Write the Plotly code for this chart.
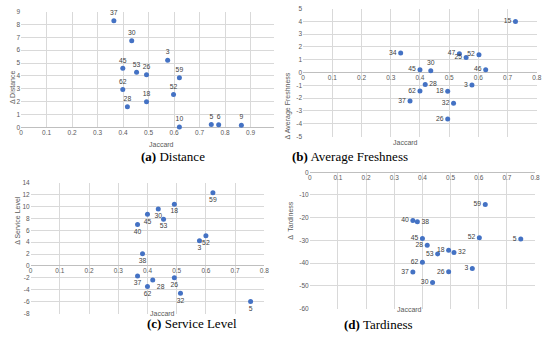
import plotly.graph_objects as go

W, H = 550, 346

# ---------------- data ----------------
# (a) Distance
dist_labels = ["37", "30", "3", "45", "53", "26", "59", "62", "52", "18", "28", "10", "5", "6", "9"]
dist_x = [0.364, 0.434, 0.575, 0.399, 0.453, 0.492, 0.621, 0.399, 0.598, 0.492, 0.417, 0.621, 0.746, 0.775, 0.864]
dist_y = [8.29, 6.74, 5.22, 4.59, 4.28, 4.10, 3.85, 2.94, 2.56, 2.00, 1.60, 0.03, 0.23, 0.20, 0.18]

# (b) Average Freshness
fresh_labels = ["15", "34", "47", "52", "25", "30", "45", "46", "28", "3", "62", "18", "37", "32", "26"]
fresh_x = [0.727, 0.334, 0.535, 0.602, 0.558, 0.437, 0.400, 0.625, 0.418, 0.578, 0.400, 0.495, 0.366, 0.515, 0.495]
fresh_y = [4.00, 1.53, 1.48, 1.40, 1.17, 0.15, 0.23, 0.23, -0.94, -0.97, -1.43, -1.45, -2.22, -2.40, -3.62]

# (c) Service Level
serv_labels = ["59", "18", "30", "45", "53", "40", "52", "3", "38", "37", "26", "28", "62", "32", "5"]
serv_x = [0.624, 0.492, 0.437, 0.400, 0.455, 0.366, 0.600, 0.578, 0.383, 0.366, 0.492, 0.418, 0.400, 0.513, 0.753]
serv_y = [12.30, 10.38, 9.55, 8.68, 7.86, 6.98, 5.06, 4.24, 2.04, -1.69, -1.96, -2.35, -3.44, -4.60, -5.97]

# (d) Tardiness
tard_labels = ["59", "40", "38", "45", "52", "5", "28", "18", "53", "32", "62", "3", "37", "26", "30"]
tard_x = [0.623, 0.366, 0.382, 0.400, 0.602, 0.749, 0.417, 0.493, 0.454, 0.512, 0.400, 0.577, 0.366, 0.493, 0.436]
tard_y = [-14.2, -21.2, -21.8, -29.1, -28.8, -29.3, -32.1, -34.3, -35.9, -35.3, -39.6, -42.3, -43.9, -43.8, -48.5]

# tick labels
ticks_x_a = [0, 0.1, 0.2, 0.3, 0.4, 0.5, 0.6, 0.7, 0.8, 0.9]
ticks_x_8 = [0, 0.1, 0.2, 0.3, 0.4, 0.5, 0.6, 0.7, 0.8]
ticks_y_a = [0, 1, 2, 3, 4, 5, 6, 7, 8, 9]
ticks_y_b = [-5, -4, -3, -2, -1, 0, 1, 2, 3, 4, 5]
ticks_y_c = [-8, -6, -4, -2, 0, 2, 4, 6, 8, 10, 12, 14]
ticks_y_d = [-60, -50, -40, -30, -20, -10, 0]

captions = [("(a)", "Distance"), ("(b)", "Average Freshness"),
            ("(c)", "Service Level"), ("(d)", "Tardiness")]
ytitles = ["Δ Distance", "Δ Average Freshness", "Δ Service Level", "Δ  Tardiness"]

# ---------------- styling ----------------
BLUE = "#4472C4"
GRID = "#d9d9d9"
TXT = "#595959"
LBL = "#404040"
FONT = "Liberation Sans"

pos_a = ["top center"] * len(dist_labels)
pos_b = ["middle left"] * len(fresh_labels)
pos_b[fresh_labels.index("30")] = "top center"
pos_b[fresh_labels.index("28")] = "middle right"
pos_c = ["bottom center"] * len(serv_labels)
pos_c[serv_labels.index("28")] = "bottom right"
pos_d = ["middle left"] * len(tard_labels)
pos_d[tard_labels.index("38")] = "middle right"
pos_d[tard_labels.index("32")] = "middle right"


def px_x(p):
    return p / W


def px_y(p):
    return 1 - p / H


def fmt(v):
    return "%g" % v


fig = go.Figure()

panels = [
    dict(x=dist_x, y=dist_y, t=dist_labels, pos=pos_a, xr=[0, 0.99], yr=[0, 9],
         xdom=[px_x(19.3), px_x(275)], ydom=[px_y(126), px_y(7.7)],
         xt=ticks_x_a, yt=ticks_y_a),
    dict(x=fresh_x, y=fresh_y, t=fresh_labels, pos=pos_b, xr=[0, 0.8], yr=[-5, 5],
         xdom=[px_x(305), px_x(541.7)], ydom=[px_y(135.3), px_y(4.7)],
         xt=ticks_x_8, yt=ticks_y_b),
    dict(x=serv_x, y=serv_y, t=serv_labels, pos=pos_c, xr=[0, 0.8], yr=[-8, 14],
         xdom=[px_x(29), px_x(265.7)], ydom=[px_y(316), px_y(182.3)],
         xt=ticks_x_8, yt=ticks_y_c),
    dict(x=tard_x, y=tard_y, t=tard_labels, pos=pos_d, xr=[0, 0.8], yr=[-60, 0],
         xdom=[px_x(311.7), px_x(540)], ydom=[px_y(311), px_y(171.7)],
         xt=ticks_x_8, yt=ticks_y_d),
]

ytitle_pos = [(5, 65), (290, 68), (10, 248), (292, 243)]
jac_pos = [(147, 143), (423, 141), (148, 321), (427, 317)]
cap_pos = [(139, 156), (413, 156), (145, 336), (418, 337)]

annotations = []
for i, p in enumerate(panels):
    n = "" if i == 0 else str(i + 1)
    fig.add_trace(go.Scatter(
        x=p["x"], y=p["y"], text=p["t"], mode="markers+text",
        textposition=p["pos"],
        textfont=dict(family=FONT, size=6.8, color=LBL),
        marker=dict(color=BLUE, size=5),
        xaxis="x" + n, yaxis="y" + n, showlegend=False, cliponaxis=False,
        hoverinfo="skip",
    ))
    y0, y1 = p["yr"]
    zero_paper = p["ydom"][0] + (0 - y0) / (y1 - y0) * (p["ydom"][1] - p["ydom"][0])
    fig.layout["xaxis" + n] = dict(
        domain=p["xdom"], range=p["xr"], anchor="free", position=zero_paper,
        tickvals=p["xt"], ticktext=[fmt(v) for v in p["xt"]],
        showgrid=True, gridcolor=GRID, gridwidth=1, zeroline=False,
        showline=False, ticks="", ticklen=0,
        tickfont=dict(family=FONT, size=6.5, color=TXT),
        fixedrange=True,
    )
    fig.layout["yaxis" + n] = dict(
        domain=p["ydom"], range=p["yr"], anchor="x" + n,
        tickvals=p["yt"], ticktext=[fmt(v) for v in p["yt"]],
        showgrid=True, gridcolor=GRID, gridwidth=1,
        zeroline=True, zerolinecolor="#bfbfbf", zerolinewidth=1,
        showline=False, ticks="",
        tickfont=dict(family=FONT, size=6.5, color=TXT),
        fixedrange=True,
    )
    tx, ty = ytitle_pos[i]
    annotations.append(dict(text=ytitles[i], x=px_x(tx), y=px_y(ty), xref="paper", yref="paper",
                            showarrow=False, textangle=-90,
                            font=dict(family=FONT, size=7, color=TXT)))
    jx, jy = jac_pos[i]
    annotations.append(dict(text="Jaccard", x=px_x(jx), y=px_y(jy), xref="paper", yref="paper",
                            showarrow=False, font=dict(family=FONT, size=7, color=TXT)))
    cx, cy = cap_pos[i]
    annotations.append(dict(text="<b>%s</b> %s" % captions[i], x=px_x(cx), y=px_y(cy),
                            xref="paper", yref="paper", showarrow=False,
                            font=dict(family="Liberation Serif", size=13, color="#000000")))

fig.update_layout(
    width=W, height=H, margin=dict(l=0, r=0, t=0, b=0),
    paper_bgcolor="white", plot_bgcolor="white",
    annotations=annotations,
)

fig.write_html("out.html", config={"displayModeBar": False},
               post_script="document.body.style.margin='0';document.body.style.padding='0';")
